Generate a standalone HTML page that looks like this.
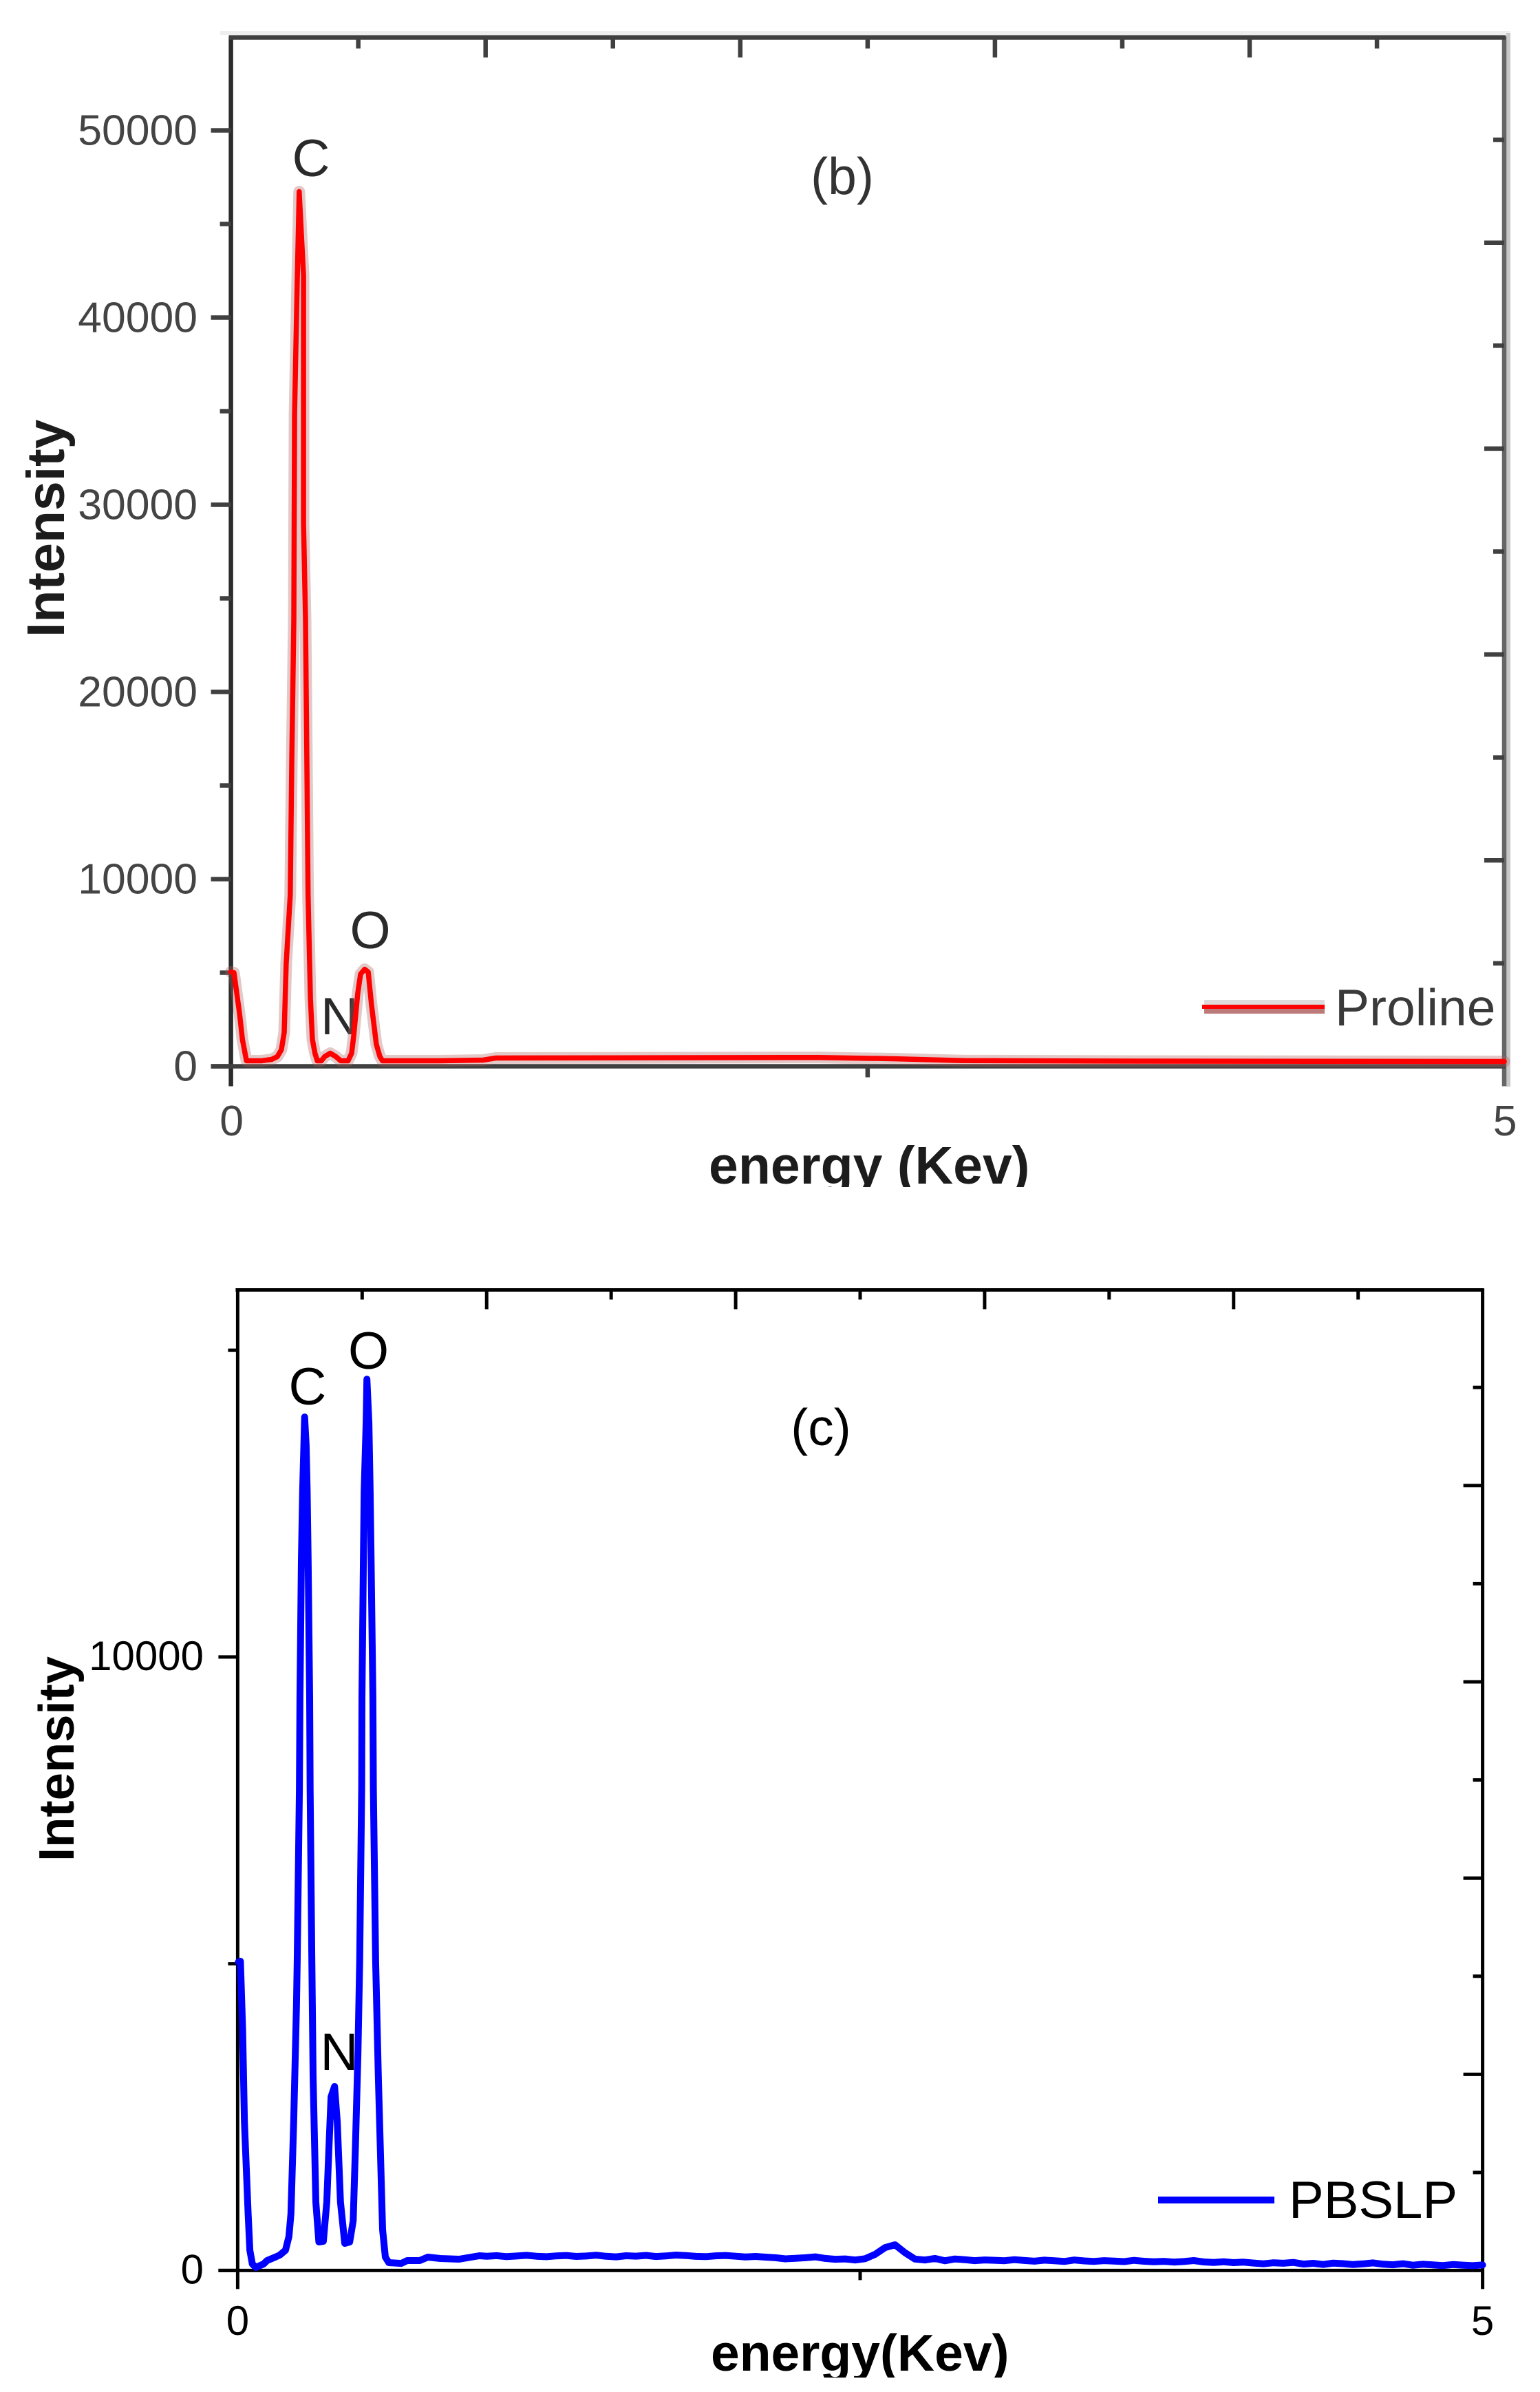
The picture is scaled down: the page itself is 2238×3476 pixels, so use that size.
<!DOCTYPE html>
<html lang="en">
<head>
<meta charset="utf-8">
<title>EDS spectra: Proline and PBSLP</title>
<style>
html,body{margin:0;padding:0;background:#fff;}
body{width:2238px;height:3476px;overflow:hidden;}
svg{display:block;}
text{font-family:"Liberation Sans",Arial,sans-serif;}
</style>
</head>
<body>
<svg id="figure" xmlns="http://www.w3.org/2000/svg" width="2238" height="3476" viewBox="0 0 2238 3476">
  <defs>
    <clipPath id="clip-b"><rect x="900" y="1640" width="700" height="85"/></clipPath>
    <clipPath id="clip-c"><rect x="900" y="3380" width="700" height="75"/></clipPath>
  </defs>
  <rect x="0" y="0" width="2238" height="3476" fill="#fff"/>

  <g id="panel-b">
    <rect x="320" y="45" width="1875" height="6" fill="#eeeeee"/>
    <rect x="2189" y="48" width="6" height="1531" fill="#c8c8c8"/>
    <text x="452" y="256" font-size="76" fill="#2a2a2a" text-anchor="middle">C</text>
    <text x="538" y="1378" font-size="76" fill="#2a2a2a" text-anchor="middle">O</text>
    <text x="493.5" y="1503" font-size="76" fill="#2a2a2a" text-anchor="middle">N</text>
    <text x="1224" y="282" font-size="75" fill="#333" text-anchor="middle">(b)</text>
    <text transform="translate(93 926) rotate(-90)" font-size="77" font-weight="700" fill="#1c1c1c">Intensity</text>
    <g clip-path="url(#clip-b)">
      <text x="1030" y="1720" font-size="77" font-weight="700" fill="#1c1c1c">energy (Kev)</text>
    </g>
    <rect x="1750" y="1453" width="175" height="7" fill="#dedada"/>
    <rect x="1750" y="1466" width="175" height="7" fill="#bd7a7a"/>
    <rect x="1747" y="1460" width="178" height="6" fill="#ff0000"/>
    <text x="1940" y="1490" font-size="75" fill="#3a3a3a">Proline</text>
  </g>

  <g id="panel-c">
    <text x="447" y="2041" font-size="76" fill="#000" text-anchor="middle">C</text>
    <text x="535.5" y="1989" font-size="76" fill="#000" text-anchor="middle">O</text>
    <text x="493" y="3008" font-size="76" fill="#000" text-anchor="middle">N</text>
    <text x="1193" y="2100" font-size="75" fill="#000" text-anchor="middle">(c)</text>
    <text transform="translate(107 2705) rotate(-90)" font-size="72.5" font-weight="700" fill="#000">Intensity</text>
    <g clip-path="url(#clip-c)">
      <text x="1033" y="3445" font-size="75" font-weight="700" fill="#000">energy(Kev)</text>
    </g>
    <rect x="1683" y="3192" width="169" height="10" fill="#0000ff"/>
    <text x="1873" y="3223" font-size="76" fill="#000">PBSLP</text>
  </g>
</svg>

<script>
// ---------- Panel (b): Proline ----------
const energyB = [
  0.00,0.012,0.034,0.045,0.061,0.12,0.16,0.182,0.198,0.209,
  0.217,0.233,0.239,0.247,0.25,0.259,0.268,0.285,0.285,0.293,
  0.298,0.303,0.312,0.32,0.33,0.339,0.355,0.368,0.39,0.412,
  0.431,0.46,0.474,0.482,0.498,0.509,0.525,0.539,0.552,0.571,
  0.585,0.595,0.82,0.99,1.04,2.31,2.61,2.88,3.42,5.00
];
const intensityB = [
  5037,5000,2794,1434,294,294,368,515,882,1801,
  5478,9154,16507,23860,34890,41140,46728,42243,29007,23860,
  16507,9154,3640,1434,699,294,294,515,699,515,
  294,294,699,1618,3897,4926,5184,5037,3272,1176,
  515,294,294,330,441,470,400,300,280,257
];
const yMajorB = [0,10000,20000,30000,40000,50000];
const yMinorB = [5000,15000,25000,35000,45000];
const xBottomMajorB = [0,5];
const xBottomMinorB = [2.5];
const xTopMajorB = [1,2,3,4];
const xTopMinorB = [0.5,1.5,2.5,3.5,4.5];
const rightMajorB = [2,4,6,8];
const rightMinorB = [1,3,5,7,9];

// ---------- Panel (c): PBSLP ----------
const energyC = [
  0.003,0.011,0.020,0.027,0.042,0.049,0.059,0.073,0.104,0.118,
  0.151,0.169,0.192,0.206,0.214,0.225,0.236,0.239,0.248,0.250,
  0.256,0.261,0.266,0.269,0.275,0.279,0.283,0.289,0.291,0.298,
  0.303,0.314,0.326,0.344,0.358,0.367,0.375,0.389,0.400,0.413,
  0.430,0.450,0.464,0.473,0.483,0.490,0.498,0.499,0.505,0.508,
  0.516,0.519,0.527,0.532,0.536,0.543,0.545,0.554,0.565,0.582,
  0.593,0.607,0.657,0.681,0.731,0.764,0.814,0.889,0.971,
  1.00,1.04,1.08,1.12,1.16,1.20,1.24,1.28,1.32,1.36,
  1.40,1.44,1.48,1.52,1.56,1.60,1.64,1.68,1.72,1.76,
  1.80,1.84,1.88,1.92,1.96,2.00,2.04,2.08,2.12,2.16,
  2.20,2.24,2.28,2.32,2.36,2.40,2.44,2.48,2.52,2.56,
  2.60,2.64,2.68,2.72,2.76,2.80,2.84,2.88,2.92,2.96,
  3.00,3.04,3.08,3.12,3.16,3.20,3.24,3.28,3.32,3.36,
  3.40,3.44,3.48,3.52,3.56,3.60,3.64,3.68,3.72,3.76,
  3.80,3.84,3.88,3.92,3.96,4.00,4.04,4.08,4.12,4.16,
  4.20,4.24,4.28,4.32,4.36,4.40,4.44,4.48,4.52,4.56,
  4.60,4.64,4.68,4.72,4.76,4.80,4.84,4.88,4.92,4.96,
  5.00
];
const intensityC = [
  5030,5041,3919,2427,924,330,105,49,105,161,
  218,251,330,554,924,2427,4289,5041,7845,9337,
  11580,12702,13453,13913,13453,12702,11580,9337,7845,5041,
  3167,1115,464,475,1115,2046,2831,2999,2427,1115,
  442,464,812,2046,3549,5041,7845,9337,11580,12702,
  13822,14530,13822,12702,11580,9337,7845,5041,3167,666,
  218,128,116,161,161,218,195,184,240,
  232,241,226,236,247,232,224,238,244,229,
  236,249,231,222,240,233,246,228,237,251,
  243,230,226,239,244,232,221,229,218,207,
  190,198,207,222,196,183,188,171,192,262,
  372,418,290,186,170,196,158,187,176,160,
  172,166,159,176,163,151,168,158,147,171,
  156,148,160,152,145,165,150,142,149,137,
  146,162,139,131,143,128,136,121,109,126,
  118,131,104,117,98,120,111,96,108,123,
  102,93,110,86,101,92,81,97,88,79,
  90
];
const yMajorC = [0,10000];
const yMinorC = [5000,15000];
const xBottomMajorC = [0,5];
const xBottomMinorC = [2.5];
const xTopMajorC = [1,2,3,4];
const xTopMinorC = [0.5,1.5,2.5,3.5,4.5];
const rightMajorC = [2,4,6,8];
const rightMinorC = [1,3,5,7,9];

const SVG_NS = 'http://www.w3.org/2000/svg';

function makeLine(parent, x1, y1, x2, y2, color, width) {
  const el = document.createElementNS(SVG_NS, 'line');
  el.setAttribute('x1', x1);
  el.setAttribute('y1', y1);
  el.setAttribute('x2', x2);
  el.setAttribute('y2', y2);
  el.setAttribute('stroke', color);
  el.setAttribute('stroke-width', width);
  parent.appendChild(el);
  return el;
}

function makeLabel(parent, x, y, str, size, color, anchor) {
  const el = document.createElementNS(SVG_NS, 'text');
  el.setAttribute('x', x);
  el.setAttribute('y', y);
  el.setAttribute('font-size', size);
  el.setAttribute('fill', color);
  el.setAttribute('text-anchor', anchor);
  el.textContent = str;
  parent.appendChild(el);
  return el;
}

function makeTrace(parent, energy, intensity, xOf, yOf, color, width, opacity) {
  const el = document.createElementNS(SVG_NS, 'polyline');
  const pts = energy.map(function (e, i) {
    return xOf(e).toFixed(1) + ',' + yOf(intensity[i]).toFixed(1);
  });
  el.setAttribute('points', pts.join(' '));
  el.setAttribute('fill', 'none');
  el.setAttribute('stroke', color);
  el.setAttribute('stroke-width', width);
  el.setAttribute('stroke-linejoin', 'round');
  el.setAttribute('stroke-linecap', 'round');
  el.setAttribute('stroke-opacity', opacity);
  parent.appendChild(el);
  return el;
}

function drawAxes(parent, g, sets) {
  const xOf = g.xOf, yOf = g.yOf, rOf = g.rOf;
  let el;
  // frame
  el = makeLine(parent, g.left, g.top - 2, g.left, g.bottom + g.tail, g.leftColor, g.axisW);
  
  
  el = makeLine(parent, g.right, g.top - 2, g.right, g.bottom + g.tail, g.rightColor, g.axisW);
  
  
  el = makeLine(parent, g.left - 3, g.top, g.right + 2, g.top, g.lineColor, g.axisW);
  
  
  el = makeLine(parent, g.left - g.majorLen, g.bottom, g.right + 2, g.bottom, g.lineColor, g.axisW);
  
  

  sets.yMajor.forEach(function (v) {
    const tick = makeLine(parent, g.left - g.majorLen, yOf(v), g.left, yOf(v), g.lineColor, g.axisW);
    
    
    const lab = makeLabel(parent, g.yLabelRight, yOf(v) + g.yLabelDrop, String(v), g.labelSize, g.labelColor, 'end');
    
    
  });
  sets.yMinor.forEach(function (v) {
    const tick = makeLine(parent, g.left - g.minorLen, yOf(v), g.left, yOf(v), g.lineColor, g.axisW);
    
    
  });
  sets.xBottomMajor.forEach(function (v) {
    const lab = makeLabel(parent, xOf(v) + g.xLabelShift, g.xLabelBase, String(v), g.labelSize, g.labelColor, 'middle');
    
    
  });
  sets.xBottomMinor.forEach(function (v) {
    const tick = makeLine(parent, xOf(v), g.bottom, xOf(v), g.bottom + g.minorLen, g.lineColor, g.axisW);
    
    
  });
  sets.xTopMajor.forEach(function (v) {
    const tick = makeLine(parent, xOf(v), g.top, xOf(v), g.top + g.majorLen, g.lineColor, g.axisW);
    
    
  });
  sets.xTopMinor.forEach(function (v) {
    const tick = makeLine(parent, xOf(v), g.top, xOf(v), g.top + g.minorLen, g.lineColor, g.axisW);
    
    
  });
  sets.rightMajor.forEach(function (v) {
    const tick = makeLine(parent, g.right - g.majorLen, rOf(v), g.right, rOf(v), g.lineColor, g.axisW);
    
    
  });
  sets.rightMinor.forEach(function (v) {
    const tick = makeLine(parent, g.right - g.minorLen, rOf(v), g.right, rOf(v), g.lineColor, g.axisW);
    
    
  });
}

// Panel (b) geometry and drawing
const panelB = document.getElementById('panel-b');
const xB = function (e) { return 335.6 + e * 370.1; };
const yB = function (v) { return 1549.5 - v * 0.0272; };
const rB = function (k) { return 1549.5 - k * 149.6; };
drawAxes(panelB, {
  left: 335.6, right: 2186, top: 54.5, bottom: 1549.5, tail: 29, axisW: 6.5,
  majorLen: 29, minorLen: 16, leftColor: '#2c2c2c', rightColor: '#666666', lineColor: '#404040',
  labelSize: 62.5, labelColor: '#444444', yLabelRight: 287, yLabelDrop: 21,
  xLabelBase: 1650, xLabelShift: 1,
  xOf: xB, yOf: yB, rOf: rB
}, {
  yMajor: yMajorB, yMinor: yMinorB,
  xBottomMajor: xBottomMajorB, xBottomMinor: xBottomMinorB,
  xTopMajor: xTopMajorB, xTopMinor: xTopMinorB,
  rightMajor: rightMajorB, rightMinor: rightMinorB
});
const traceHaloB = makeTrace(panelB, energyB, intensityB, xB, yB, '#b06060', 17, 0.35);


const traceB = makeTrace(panelB, energyB, intensityB, xB, yB, '#ff0000', 7.5, 1);



// Panel (c) geometry and drawing
const panelC = document.getElementById('panel-c');
const xC = function (e) { return 345.4 + e * 361.84; };
const yC = function (v) { return 3299.4 - v * 0.08915; };
const rC = function (k) { return 3299.6 - k * 142.6; };
drawAxes(panelC, {
  left: 345.4, right: 2154.6, top: 1874.5, bottom: 3299.4, tail: 27, axisW: 5,
  majorLen: 28, minorLen: 14, leftColor: '#000000', rightColor: '#000000', lineColor: '#000000',
  labelSize: 60, labelColor: '#000000', yLabelRight: 296, yLabelDrop: 19,
  xLabelBase: 3393, xLabelShift: 0,
  xOf: xC, yOf: yC, rOf: rC
}, {
  yMajor: yMajorC, yMinor: yMinorC,
  xBottomMajor: xBottomMajorC, xBottomMinor: xBottomMinorC,
  xTopMajor: xTopMajorC, xTopMinor: xTopMinorC,
  rightMajor: rightMajorC, rightMinor: rightMinorC
});
const traceC = makeTrace(panelC, energyC, intensityC, xC, yC, '#0000ff', 10, 1);


</script>
</body>
</html>
